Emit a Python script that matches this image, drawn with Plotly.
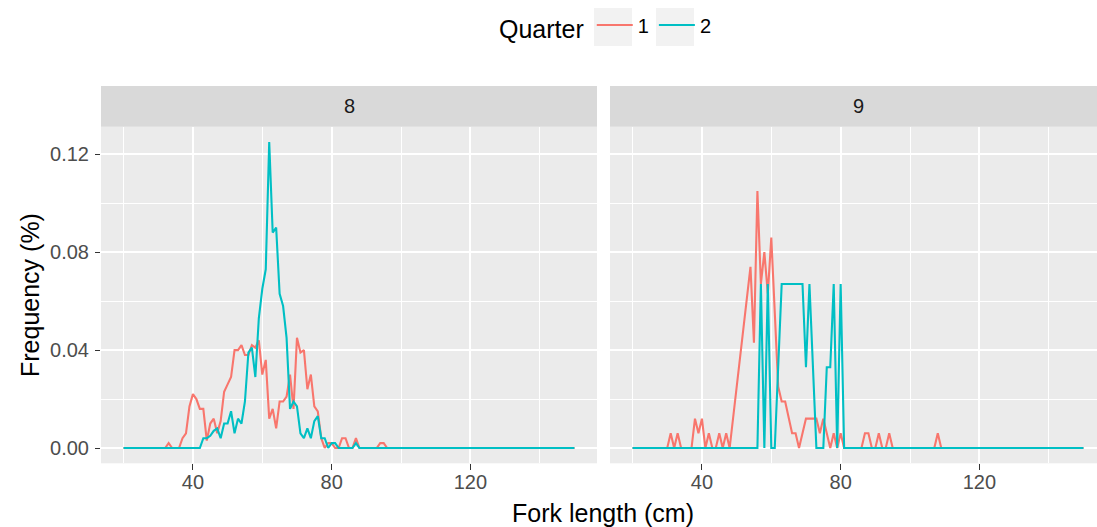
import plotly.graph_objects as go

# Fork-length frequency by area (facet) and quarter (colour)
facets = ["8", "9"]
quarters = ["1", "2"]
colors = {"1": "#F8766D", "2": "#00BFC4"}

# Area 8, quarter 1
a8_q1_len = [20, 32, 33, 34, 36, 37, 38, 39, 40, 41, 42, 43, 44, 45, 46, 47, 48, 49,
             50, 51, 52, 53, 54, 55, 56, 57, 58, 59, 60, 61, 62, 63, 64, 65, 66, 67,
             68, 69, 70, 71, 72, 73, 74, 75, 76, 77, 78, 79, 80, 81, 82, 83, 84, 85,
             86, 87, 88, 93, 94, 95, 96, 150]
a8_q1_freq = [0, 0, 0.002, 0, 0, 0.004, 0.006, 0.017, 0.022, 0.020, 0.016, 0.016,
              0.003, 0.010, 0.012, 0.006, 0.011, 0.023, 0.026, 0.029, 0.040, 0.040,
              0.042, 0.038, 0.038, 0.042, 0.041, 0.044, 0.030, 0.036, 0.012, 0.016,
              0.008, 0.019, 0.019, 0.021, 0.030, 0.016, 0.045, 0.039, 0.040, 0.024,
              0.030, 0.017, 0.015, 0.004, 0, 0.002, 0.002, 0, 0, 0.004, 0.004, 0,
              0, 0.004, 0, 0, 0.002, 0.002, 0, 0]

# Area 8, quarter 2
a8_q2_len = [20, 42, 43, 44, 45, 46, 47, 48, 49, 50, 51, 52, 53, 54, 55, 56, 57, 58,
             59, 60, 61, 62, 63, 64, 65, 66, 67, 68, 69, 70, 71, 72, 73, 74, 75, 76,
             77, 78, 79, 80, 81, 82, 86, 87, 88, 150]
a8_q2_freq = [0, 0, 0.004, 0.004, 0.005, 0.007, 0.008, 0.004, 0.010, 0.010, 0.015,
              0.006, 0.012, 0.010, 0.019, 0.039, 0.041, 0.029, 0.053, 0.065, 0.073,
              0.125, 0.088, 0.090, 0.063, 0.058, 0.045, 0.016, 0.019, 0.017, 0.006,
              0.004, 0.008, 0.004, 0.011, 0.013, 0.004, 0.004, 0, 0.002, 0.002, 0,
              0, 0.002, 0, 0]

# Area 9, quarter 1
a9_q1_len = [20, 30, 31, 32, 33, 34, 37, 38, 39, 40, 41, 42, 43, 44, 45, 46, 47, 48,
             54, 55, 56, 57, 58, 59, 60, 62, 63, 64, 66, 67, 68, 70, 73, 74, 75, 77,
             78, 79, 80, 81, 86, 87, 88, 89, 90, 91, 92, 93, 94, 95, 107, 108, 109, 150]
a9_q1_freq = [0, 0, 0.006, 0, 0.006, 0, 0, 0.012, 0.006, 0.012, 0, 0.006, 0, 0,
              0.006, 0, 0.006, 0, 0.074, 0.043, 0.105, 0.067, 0.080, 0.063, 0.086,
              0.025, 0.019, 0.019, 0.006, 0.006, 0, 0.012, 0.012, 0.006, 0.012, 0,
              0.006, 0, 0.006, 0, 0, 0.006, 0.006, 0, 0, 0.006, 0, 0, 0.006, 0,
              0, 0.006, 0, 0]

# Area 9, quarter 2
a9_q2_len = [20, 56, 57, 58, 59, 60, 61, 63, 69, 70, 71, 73, 75, 76, 77, 78, 79, 80, 81, 150]
a9_q2_freq = [0, 0, 0.067, 0, 0.067, 0, 0, 0.067, 0.067, 0.033, 0.067, 0, 0, 0.033,
              0.033, 0.067, 0, 0.067, 0, 0]

series = {
    ("8", "1"): (a8_q1_len, a8_q1_freq),
    ("8", "2"): (a8_q2_len, a8_q2_freq),
    ("9", "1"): (a9_q1_len, a9_q1_freq),
    ("9", "2"): (a9_q2_len, a9_q2_freq),
}

y_ticks = [0.0, 0.04, 0.08, 0.12]
y_tick_text = ["0.00", "0.04", "0.08", "0.12"]
x_ticks = [40, 80, 120]

W, H = 1097, 527
FONT = "Liberation Sans, Arial, sans-serif"
PANEL_BG = "#EBEBEB"
STRIP_BG = "#D9D9D9"
KEY_BG = "#F2F2F2"

# panel geometry in pixels
left_panel = (101, 597)
right_panel = (610, 1097)
panel_top, panel_bottom = 126.7, 463.3
strip_top = 86.0
px_per_cm = (left_panel[1] - left_panel[0]) / (156.5 - 13.5)
x_range_left = [13.5, 156.5]
x_range_right = [13.5, 13.5 + (right_panel[1] - right_panel[0]) / px_per_cm]
y_range = [-0.00625, 0.13125]


def px(v):
    return v / W


def py(v):
    return 1 - v / H


fig = go.Figure()

for fi, facet in enumerate(facets):
    xa = "x" if fi == 0 else "x2"
    ya = "y" if fi == 0 else "y2"
    for q in quarters:
        xs, ys = series[(facet, q)]
        fig.add_trace(go.Scatter(
            x=xs, y=ys, mode="lines", xaxis=xa, yaxis=ya,
            name=q, legendgroup=q, showlegend=(fi == 0),
            line=dict(color=colors[q], width=2.1),
            hoverinfo="skip",
        ))

common_x = dict(
    tickvals=x_ticks, ticks="outside", ticklen=6, tickwidth=1.2, tickcolor="#333333",
    tickfont=dict(family=FONT, size=20, color="#4D4D4D"),
    showgrid=True, gridcolor="white", gridwidth=2,
    minor=dict(tickvals=[20, 60, 100, 140], showgrid=True, gridcolor="white",
               gridwidth=1.1, ticks=""),
    zeroline=False, showline=False, ticklabelstandoff=-5,
)
common_y = dict(
    range=y_range, showgrid=True, gridcolor="white", gridwidth=2,
    minor=dict(tickvals=[0.02, 0.06, 0.10], showgrid=True, gridcolor="white",
               gridwidth=1.1, ticks=""),
    zeroline=False, showline=False,
    domain=[py(panel_bottom), py(panel_top)],
)

fig.update_layout(
    width=W, height=H,
    margin=dict(l=0, r=0, t=0, b=0),
    paper_bgcolor="white",
    plot_bgcolor=PANEL_BG,
    font=dict(family=FONT, color="black"),
    xaxis=dict(domain=[px(left_panel[0]), px(left_panel[1])], range=x_range_left,
               anchor="y", **common_x),
    xaxis2=dict(domain=[px(right_panel[0]), 1.0], range=x_range_right,
                anchor="y2", **common_x),
    yaxis=dict(anchor="x", tickvals=y_ticks, ticktext=y_tick_text, ticks="outside",
               ticklen=5, tickwidth=1.2, tickcolor="#333333",
               tickfont=dict(family=FONT, size=20, color="#4D4D4D"),
               ticklabelstandoff=2, **common_y),
    yaxis2=dict(anchor="x2", matches="y", tickvals=y_ticks, showticklabels=False,
                ticks="", **common_y),
    legend=dict(
        orientation="h", x=px(497), xanchor="left", y=py(27), yanchor="middle",
        title=dict(text="Quarter", font=dict(family=FONT, size=25, color="black"),
                   side="left"),
        font=dict(family=FONT, size=20, color="black"),
        bgcolor="rgba(0,0,0,0)", borderwidth=0, itemwidth=36,
        tracegroupgap=0,
    ),
)

# facet strips
shapes = []
annotations = []
full_right = right_panel[0] + (156.5 - 13.5) * px_per_cm
for (x0, x1), label in zip([left_panel, (right_panel[0], full_right)], facets):
    shapes.append(dict(type="rect", xref="paper", yref="paper",
                       x0=px(x0), x1=min(px(x1), 1.0), y0=py(panel_top), y1=py(strip_top),
                       fillcolor=STRIP_BG, line=dict(width=0), layer="below"))
    annotations.append(dict(text=label, xref="paper", yref="paper",
                            x=px((x0 + x1) / 2), y=py((strip_top + panel_top) / 2),
                            showarrow=False, xanchor="center", yanchor="middle",
                            font=dict(family=FONT, size=20, color="#1A1A1A")))

# grey backgrounds behind the legend keys
for kx0 in (594, 656):
    shapes.append(dict(type="rect", xref="paper", yref="paper",
                       x0=px(kx0), x1=px(kx0 + 38), y0=py(46), y1=py(8),
                       fillcolor=KEY_BG, line=dict(width=0), layer="below"))

# axis titles
annotations.append(dict(text="Fork length (cm)", xref="paper", yref="paper",
                        x=px((left_panel[0] + full_right) / 2), y=py(513),
                        showarrow=False, xanchor="center", yanchor="middle",
                        font=dict(family=FONT, size=25, color="black")))
annotations.append(dict(text="Frequency (%)", xref="paper", yref="paper",
                        x=px(30), y=py((panel_top + panel_bottom) / 2), textangle=-90,
                        showarrow=False, xanchor="center", yanchor="middle",
                        font=dict(family=FONT, size=25, color="black")))

fig.update_layout(shapes=shapes, annotations=annotations)

fig.write_html("out.html")
